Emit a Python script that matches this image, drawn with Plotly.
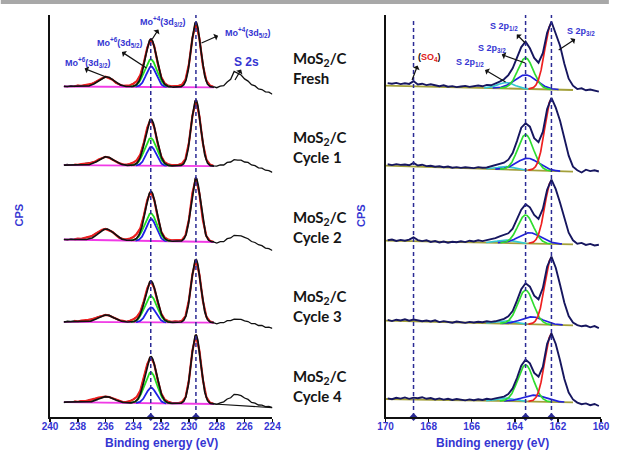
import numpy as np
import plotly.graph_objects as go

W, H = 618, 456
ML, MR, MT, MB = 50, 8, 15, 39
PW = W - ML - MR          # 560
PH = H - MT - MB          # 402
BLUE = "#3535d2"
NAVY = "#16165f"

sample_labels = ["Fresh", "Cycle 1", "Cycle 2", "Cycle 3", "Cycle 4"]

# ---------------- Mo 3d / S 2s panel (left) ----------------
mo_energy = np.round(np.arange(239.0, 223.9, -0.25), 2)      # 61 points, 239 -> 224 eV
mo_raw = [
    [0.5, -0.3, 0.8, 0.2, 1.0, 0.6, 1.4, 1.6, 2.6, 4.2, 6.5, 8.2, 9.8, 8.4, 6.8, 3.6, 2.2, 0.6, 0.9, 1.2,
     2.8, 5.5, 11.5, 23.5, 39.0, 47.5, 40.5, 23.0, 9.5, 3.2, 0.9, 0.2, 0.4, 0.6, 1.8, 6.8, 22.5, 48.5, 64.3, 48.0,
     21.0, 5.8, 1.0, -0.3, -1.2, 0.3, 0.8, 4.5, 7.2, 15.0, 13.2, 11.5, 7.6, 5.4, 1.8, 0.6, -2.4, -3.0, -5.4, -5.6, -7.8],
    [0.3, 0.9, -0.2, 0.6, 0.4, 1.0, 1.1, 1.8, 2.4, 3.6, 5.6, 7.2, 8.4, 7.4, 5.4, 3.4, 1.8, 0.9, 0.5, 1.3,
     2.6, 5.0, 10.6, 22.4, 37.5, 46.0, 38.2, 21.5, 8.8, 2.9, 1.0, 0.1, 0.5, 0.3, 1.6, 6.4, 22.8, 49.5, 65.0, 49.0,
     21.8, 5.6, 0.8, -0.6, -1.0, 0.2, 0.2, 2.8, 3.2, 5.6, 5.0, 5.0, 3.2, 2.8, 0.2, -0.4, -2.6, -3.0, -5.0, -5.4, -7.2],
    [0.2, -0.5, 0.6, 0.1, 0.9, 0.7, 1.6, 2.2, 3.4, 5.6, 8.0, 9.6, 10.5, 9.4, 7.6, 4.4, 1.6, 0.4, 0.2, 0.9,
     2.4, 5.8, 11.2, 23.8, 39.5, 48.0, 39.8, 22.2, 8.0, 2.0, -0.2, -0.9, -0.6, -1.0, -0.4, 4.2, 20.0, 46.5, 61.5, 46.0,
     19.5, 3.4, -1.2, -2.4, -3.5, -2.2, -2.2, 0.8, 1.6, 4.2, 4.2, 3.6, 2.2, 0.8, -2.0, -3.0, -5.2, -6.2, -8.6, -9.2, -11.0],
    [-0.8, 0.4, -0.2, 0.6, 0.0, 0.8, 0.9, 1.6, 2.2, 3.4, 4.8, 6.0, 6.6, 6.0, 4.4, 2.6, 1.2, 0.6, -0.2, 0.8,
     2.2, 4.6, 9.6, 20.2, 33.0, 40.5, 33.6, 19.4, 7.8, 2.2, 0.4, -0.4, 0.2, -0.2, 0.8, 5.4, 21.6, 47.2, 62.0, 47.0,
     20.8, 4.8, 0.2, -1.2, -2.4, -1.2, -1.2, 0.8, 0.8, 2.4, 2.2, 2.2, 0.6, 0.0, -2.2, -2.2, -4.0, -4.0, -5.8, -5.6, -6.8],
    [-1.7, -0.6, -1.2, -0.4, -0.8, 0.0, -0.2, 0.6, 1.2, 2.4, 3.4, 4.2, 4.4, 4.0, 2.8, 1.0, 0.0, -1.0, -0.8, -0.2,
     1.6, 4.2, 10.4, 22.6, 36.8, 44.3, 37.0, 21.0, 7.6, 1.4, -0.8, -1.8, -1.6, -2.0, -1.0, 3.6, 21.0, 50.6, 66.0, 50.2,
     21.4, 3.8, -1.6, -2.8, -3.4, -1.8, -0.8, 2.0, 3.2, 6.6, 6.4, 5.4, 3.0, 1.6, -1.4, -2.2, -4.0, -4.2, -5.6, -5.4, -6.6],
]
mo_offset = [330.5, 251.8, 177.5, 95.5, 16.0]
mo_base_start = [0.0, 0.0, 0.0, -0.3, -1.2]     # baseline at 239 eV
mo_base_end = [-0.8, -1.0, -2.5, -1.2, -3.0]    # baseline at 228.2 eV
mo_fit_lo, mo_fit_hi = 228.2, 239.0
# fitted components: centre (eV), FWHM (eV), heights per sample
mo4_52_c, mo4_52_w, mo4_52_h = 229.5, 0.80, [65.0, 65.9, 63.7, 63.1, 68.8]
mo_green_c, mo_green_w, mo_green_h = 232.75, 1.05, [27.5, 27.6, 27.5, 26.3, 31.0]
mo_blue_c, mo_blue_w, mo_blue_h = 232.72, 0.85, [20.5, 19.0, 22.0, 15.0, 15.5]
mo6_32_c, mo6_32_w, mo6_32_h = 235.95, 1.30, [10.0, 8.7, 11.2, 7.1, 6.1]
mo_ticks = [240, 238, 236, 234, 232, 230, 228, 226, 224]

# ---------------- S 2p panel (right) ----------------
s_energy = np.round(np.arange(169.9, 160.0, -0.2), 1)          # 50 points, 169.9 -> 160.1 eV
s_raw = [
    [2.6, 2.0, 2.8, 1.6, 2.4, 1.8, 4.6, 1.2, 2.0, 0.6, 1.4, 0.2, -0.6, 0.4, -1.0, -0.4, -1.4, -0.8, -0.2, -1.2,
     -0.4, 0.2, -0.6, 0.8, 0.4, 2.0, 4.0, 6.4, 10.6, 17.4, 28.0, 38.6, 44.0, 37.4, 27.8, 23.0, 32.6, 53.0, 64.0, 52.8,
     40.0, 22.0, 7.0, 0.0, -3.4, -2.6, -4.6, -3.8, -5.2, -6.0],
    [1.4, 0.6, 1.6, 0.8, 1.2, 0.4, 2.8, 0.2, 1.0, -0.4, 0.0, -1.0, -0.6, -1.6, -0.8, -2.0, -1.4, -2.2, -1.6, -1.8,
     -2.4, -1.4, -2.0, -1.8, -0.6, 0.2, 1.6, 3.0, 6.0, 12.6, 24.6, 38.0, 42.4, 39.0, 27.6, 23.6, 33.8, 56.6, 67.8, 58.0,
     45.0, 28.0, 10.0, -1.0, -4.6, -6.8, -4.0, -5.4, -4.6, -5.8],
    [0.4, 1.2, -0.2, 0.8, 0.0, 1.0, 3.4, 0.6, -0.4, 0.4, -1.2, -0.4, -1.8, -0.8, -2.0, -1.0, -1.6, -0.6, -1.4, 0.0,
     -0.8, 0.4, -0.4, 0.6, 1.4, 2.6, 4.4, 6.0, 7.4, 12.0, 21.0, 31.0, 36.4, 33.4, 25.8, 21.8, 31.8, 51.0, 61.0, 51.6,
     38.0, 22.0, 8.0, 0.4, -3.0, -2.2, -4.2, -3.2, -4.8, -4.0],
    [0.8, -0.4, 1.0, 0.2, 1.4, 0.0, 1.2, 0.6, -0.6, 0.2, -0.8, 0.4, -1.4, -0.4, -1.0, -2.0, -0.8, -1.6, -2.2, -1.2,
     -1.8, -1.0, -1.6, -0.6, -1.2, -0.6, 0.4, 1.8, 4.4, 9.6, 20.0, 31.6, 37.4, 34.0, 25.0, 21.4, 32.6, 54.0, 64.0, 53.0,
     36.0, 18.0, 4.6, -1.8, -4.4, -5.6, -4.8, -6.6, -5.4, -7.4],
    [0.6, -0.2, 1.2, 0.4, 1.6, 0.2, 1.4, 0.8, 1.8, 0.2, 1.0, -0.4, 0.6, -0.6, 0.2, -1.0, 0.0, -0.8, -1.4, -0.4,
     -1.2, -0.2, -1.0, 0.2, -0.4, 0.6, 1.2, 2.4, 5.0, 10.6, 21.0, 33.4, 39.4, 35.6, 26.0, 22.4, 32.0, 55.2, 65.7, 55.0,
     38.4, 20.0, 6.4, -0.4, -3.6, -5.2, -4.4, -6.2, -5.0, -7.0],
]
s_offset = [331.3, 251.3, 176.3, 96.3, 18.0]
s_base_end = [-4.3, -6.0, -3.6, -4.6, -3.3]     # baseline at 161.3 eV (0 at 170 eV)
s_base_lo, s_base_hi = 161.3, 170.0
s_red_c, s_red_w, s_red_h = 162.3, 0.72, [66.0, 72.0, 63.0, 67.0, 68.0]
s_green_c, s_green_w, s_green_h = 163.5, 0.85, [31.0, 35.5, 28.4, 34.0, 36.5]
s_blue_c, s_blue_w, s_blue_h = [163.5, 163.4, 163.3, 163.2, 163.1], 1.2, [14.0, 12.0, 10.7, 7.5, 6.5]
s_cyan_c, s_cyan_w, s_cyan_h = 164.4, 0.9, [6.0, 3.0, 3.0, 3.0, 3.0]
s_ticks = [170, 168, 166, 164, 162, 160]
so4_pos = 168.7

for r in mo_raw:
    assert len(r) == len(mo_energy), len(r)
for r in s_raw:
    assert len(r) == len(s_energy), len(r)


def gauss(x, c, h, w):
    return h * np.exp(-4 * np.log(2) * (x - c) ** 2 / w ** 2)


fig = go.Figure()


def add_line(x, y, color, width, axis="l"):
    xa, ya = ("x", "y") if axis == "l" else ("x2", "y2")
    fig.add_trace(go.Scatter(x=x, y=y, mode="lines", xaxis=xa, yaxis=ya,
                             line=dict(color=color, width=width), hoverinfo="skip"))


# ---- left panel traces ----
mo_fine = np.linspace(mo_fit_hi, mo_fit_lo, 500)
for i in range(5):
    off = mo_offset[i]
    raw = np.array(mo_raw[i])
    base = off + mo_base_start[i] + (mo_base_end[i] - mo_base_start[i]) * (mo_fit_hi - mo_fine) / (mo_fit_hi - mo_fit_lo)
    add_line(mo_energy, off + raw, "#111111", 1.3)
    m = (mo_energy <= 238.25) & (mo_energy >= 228.25)
    add_line(mo_energy[m], off + raw[m], "#ee2020", 2.2)
    if i == 4:
        add_line([mo_fit_lo, mo_energy[-1]], [off + mo_base_end[i], off + raw[-1]], "#111111", 1.1)
    add_line([mo_fit_hi, mo_fit_lo], [off + mo_base_start[i], off + mo_base_end[i]], "#f03ae6", 1.8)
    g_blue = gauss(mo_fine, mo_blue_c, mo_blue_h[i], mo_blue_w)
    g_green = gauss(mo_fine, mo_green_c, mo_green_h[i], mo_green_w)
    g_a = gauss(mo_fine, mo4_52_c, mo4_52_h[i], mo4_52_w)
    g_b = gauss(mo_fine, mo6_32_c, mo6_32_h[i], mo6_32_w)
    mb = g_blue > 0.15
    add_line(mo_fine[mb], (base + g_blue)[mb], "#2020e6", 1.8)
    mg = g_green > 0.15
    add_line(mo_fine[mg], (base + g_green)[mg], "#22dd22", 1.8)
    add_line(mo_fine, base + g_a + g_b + g_green + g_blue, "#111111", 1.7)

# ---- right panel traces ----
s_fine = np.linspace(166.0, 160.5, 600)
for i in range(5):
    off = s_offset[i]
    raw = np.array(s_raw[i])
    base = off + s_base_end[i] * (s_base_hi - s_fine) / (s_base_hi - s_base_lo)
    add_line([s_base_hi, s_base_lo], [off, off + s_base_end[i]], "#a3a03a", 1.8, "r")
    comps = [
        (gauss(s_fine, s_cyan_c, s_cyan_h[i], s_cyan_w), "#35c8d0", None),
        (gauss(s_fine, s_blue_c[i], s_blue_h[i], s_blue_w), "#2222dd", None),
        (gauss(s_fine, s_green_c, s_green_h[i], s_green_w), "#2fdc2f", None),
        (gauss(s_fine, s_red_c, s_red_h[i], s_red_w), "#ee2020", s_red_c),
    ]
    for g, col, xmin in comps:
        mk = g > 0.15
        if xmin is not None:
            mk &= s_fine >= xmin
        add_line(s_fine[mk], (base + g)[mk], col, 1.7, "r")
    add_line(s_energy, off + raw, NAVY, 1.9, "r")

# ---- dashed reference lines with axis markers ----
shapes = []
dash_left = [(mo_green_c, mo_offset[0] + mo_green_h[0] + mo_blue_h[0]), (mo4_52_c, PH)]
dash_right = [(so4_pos, PH - 3), (s_green_c, PH), (s_red_c, PH)]
for xv, ytop in dash_left:
    shapes.append(dict(type="line", xref="x", yref="y", x0=xv, x1=xv, y0=0, y1=ytop,
                       line=dict(color="#2b2b95", width=1.5, dash="4px,3px")))
for xv, ytop in dash_right:
    shapes.append(dict(type="line", xref="x2", yref="y2", x0=xv, x1=xv, y0=0, y1=ytop,
                       line=dict(color="#2b2b95", width=1.5, dash="4px,3px")))
fig.add_trace(go.Scatter(x=[d[0] for d in dash_left], y=[0, 0], mode="markers", xaxis="x", yaxis="y",
                         marker=dict(symbol="diamond", size=6, color="#2b2b95"), cliponaxis=False, hoverinfo="skip"))
fig.add_trace(go.Scatter(x=[d[0] for d in dash_right], y=[0, 0, 0], mode="markers", xaxis="x2", yaxis="y2",
                         marker=dict(symbol="diamond", size=6, color="#2b2b95"), cliponaxis=False, hoverinfo="skip"))

# top grey band (0-4 px)
shapes.append(dict(type="rect", xref="paper", yref="paper", x0=-ML / PW, x1=1 + MR / PW,
                   y0=(417 - 4) / PH, y1=417 / PH, fillcolor="#a8a8a8", line=dict(width=0), layer="above"))

# ---- annotations ----
ann = []
LFONT = "Liberation Sans"


def lpx(px, py):
    return 240 - (px - ML) * 16 / 226.0, 417 - py


def rpx(px, py):
    return 170 - (px - 391) * 10 / 219.0, 417 - py


def label(text, px, py, side="l", size=9, color=BLUE):
    x, y = (lpx if side == "l" else rpx)(px, py)
    ann.append(dict(text=text, x=x, y=y, xref="x" if side == "l" else "x2", yref="y" if side == "l" else "y2",
                    showarrow=False, xanchor="center", yanchor="middle",
                    font=dict(family=LFONT, size=size, color=color, weight="bold")))


def arrow(tail, head, side="l"):
    x, y = (lpx if side == "l" else rpx)(*tail)
    ann.append(dict(text="", x=x, y=y, xref="x" if side == "l" else "x2", yref="y" if side == "l" else "y2",
                    ax=head[0] - tail[0], ay=head[1] - tail[1], showarrow=True, arrowside="start",
                    arrowhead=2, arrowsize=1.0, arrowwidth=1.2, arrowcolor="#111111"))


label("Mo<sup>+6</sup>(3d<sub>3/2</sub>)", 88, 62)
label("Mo<sup>+6</sup>(3d<sub>5/2</sub>)", 121, 42)
label("Mo<sup>+4</sup>(3d<sub>3/2</sub>)", 164, 21)
label("Mo<sup>+4</sup>(3d<sub>5/2</sub>)", 251, 32)
label("S 2s", 250, 62, size=12)
arrow((107, 77), (84, 68))
arrow((148, 68), (122, 51))
arrow((154, 39), (161, 28))
arrow((204, 43), (222, 35))
arrow((238, 80), (245, 68))

label("<span style='color:#111111'>(</span>SO<sub>4</sub><span style='color:#111111'>)</span>",
      436, 57, "r", color="#e02020")
label("S 2p<sub>1/2</sub>", 477, 62, "r")
label("S 2p<sub>3/2</sub>", 499, 48, "r")
label("S 2p<sub>1/2</sub>", 511, 26, "r")
label("S 2p<sub>3/2</sub>", 590, 31, "r")
arrow((418, 80), (424, 64), "r")
arrow((513, 82), (491, 69), "r")
arrow((533, 63), (508, 54), "r")
arrow((533, 43), (523, 33), "r")
arrow((567, 50), (585, 38), "r")

# sample labels
label_y_px = [68, 147, 227, 306, 386]
for name, py in zip(sample_labels, label_y_px):
    ann.append(dict(text="MoS<sub>2</sub>/C<br>" + name, xref="paper", yref="paper",
                    x=(295 - ML) / PW, y=(417 - py) / PH, xanchor="left", yanchor="middle", align="left",
                    showarrow=False, font=dict(family="Lato", size=15, color="#151515", weight="bold")))

# axis titles
for cx in [163, 500]:
    ann.append(dict(text="Binding energy (eV)", xref="paper", yref="paper", x=(cx - ML) / PW, y=(417 - 443) / PH,
                    xanchor="center", yanchor="middle", showarrow=False,
                    font=dict(family=LFONT, size=12, color=BLUE, weight="bold")))
for cx in [19, 366]:
    ann.append(dict(text="CPS", xref="paper", yref="paper", x=(cx - ML) / PW, y=(417 - 215) / PH,
                    xanchor="center", yanchor="middle", showarrow=False, textangle=-90,
                    font=dict(family=LFONT, size=11, color=BLUE, weight="bold")))

tickfont = dict(family=LFONT, size=10, color=BLUE, weight="bold")
xcommon = dict(showline=True, linecolor="#111111", linewidth=1.5, ticks="outside", ticklen=3, tickwidth=1.5,
               tickcolor="#111111", showgrid=False, zeroline=False, tickfont=tickfont, ticklabelstandoff=-4)
ycommon = dict(range=[0, PH], showline=True, linecolor="#111111", linewidth=2, showticklabels=False,
               ticks="", showgrid=False, zeroline=False)

fig.update_layout(
    width=W, height=H, margin=dict(l=ML, r=MR, t=MT, b=MB, pad=0),
    plot_bgcolor="white", paper_bgcolor="white", showlegend=False,
    xaxis=dict(domain=[0, 226 / PW], range=[240, 224], tickvals=mo_ticks, anchor="y", **xcommon),
    yaxis=dict(domain=[0, 1], anchor="x", **ycommon),
    xaxis2=dict(domain=[341 / PW, 1.0], range=[170, 160], tickvals=s_ticks, anchor="y2", **xcommon),
    yaxis2=dict(domain=[0, 1], anchor="x2", **ycommon),
    shapes=shapes, annotations=ann,
)

fig.write_html("out.html", config={"displayModeBar": False, "staticPlot": True},
               post_script="document.body.style.margin='0px';document.body.style.overflow='hidden';")
